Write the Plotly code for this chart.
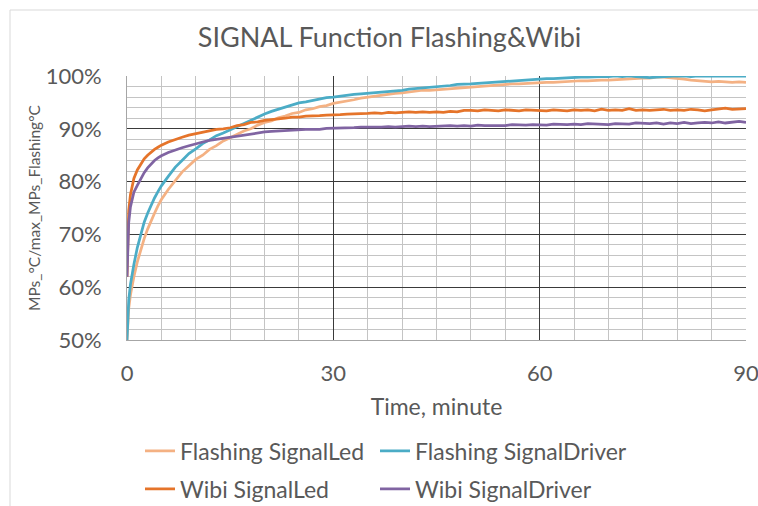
import plotly.graph_objects as go

# Sampling times (minutes)
TIME_MIN = [0, 0.1, 0.25, 0.5, 0.75, 1, 1.5, 2, 2.5, 3, 3.5, 4, 4.5,
            5, 6, 7, 8, 9, 10, 11, 12, 13, 14,
            15, 16, 17, 18, 19, 20, 21, 22, 23, 24,
            25, 26, 27, 28, 29, 30, 31, 32, 33, 34,
            35, 36, 37, 38, 39, 40, 41, 42, 43, 44,
            45, 46, 47, 48, 49, 50, 51, 52, 53, 54,
            55, 56, 57, 58, 59, 60, 61, 62, 63, 64,
            65, 66, 67, 68, 69, 70, 71, 72, 73, 74,
            75, 76, 77, 78, 79, 80, 81, 82, 83, 84,
            85, 86, 87, 88, 89, 90]

# Normalised temperature, % of max (Flashing)
FLASHING_SIGNAL_LED = [50.0, 53.0, 56.0, 58.5, 60.3, 62.0, 64.8, 67.1, 69.2, 71.0, 72.6, 74.0, 75.4,
                       76.6, 78.5, 80.2, 81.8, 83.0, 84.2, 85.0, 86.1, 86.8, 87.7,
                       88.3, 88.9, 89.6, 90.0, 90.7, 91.2, 91.5, 92.1, 92.4, 92.9,
                       93.1, 93.6, 93.8, 94.2, 94.4, 94.8, 95.0, 95.3, 95.5, 95.8,
                       96.0, 96.1, 96.4, 96.5, 96.7, 96.8, 97.0, 97.1, 97.3, 97.3,
                       97.4, 97.6, 97.6, 97.8, 97.9, 97.9, 98.1, 98.1, 98.3, 98.3,
                       98.4, 98.5, 98.5, 98.6, 98.7, 98.7, 98.8, 98.8, 98.9, 99.0,
                       99.0, 99.1, 99.1, 99.2, 99.2, 99.2, 99.3, 99.3, 99.4, 99.5,
                       99.6, 99.6, 99.8, 99.8, 99.7, 99.6, 99.4, 99.2, 99.1, 99.0,
                       98.9, 99.0, 98.9, 98.8, 98.9, 98.8]

FLASHING_SIGNAL_DRIVER = [50.0, 54.5, 57.5, 60.5, 62.6, 64.3, 67.5, 70.2, 72.3, 74.0, 75.5, 76.9, 78.1,
                          79.2, 81.0, 82.7, 84.0, 85.3, 86.2, 87.2, 87.9, 88.7, 89.2,
                          89.8, 90.4, 91.1, 91.6, 92.3, 92.8, 93.3, 93.7, 94.2, 94.5,
                          94.9, 95.1, 95.4, 95.6, 95.9, 96.0, 96.2, 96.3, 96.5, 96.6,
                          96.7, 96.9, 97.0, 97.1, 97.2, 97.3, 97.5, 97.6, 97.7, 97.9,
                          98.0, 98.1, 98.2, 98.4, 98.4, 98.5, 98.6, 98.7, 98.8, 98.9,
                          99.0, 99.1, 99.1, 99.2, 99.3, 99.4, 99.5, 99.5, 99.6, 99.6,
                          99.7, 99.8, 99.8, 99.9, 99.9, 99.9, 100.0, 99.9, 100.0, 99.9,
                          99.8, 99.7, 99.8, 99.9, 99.9, 100.0, 100.0, 99.9, 100.0, 100.0,
                          99.9, 100.0, 100.0, 99.9, 100.0, 100.0]

WIBI_SIGNAL_LED = [62.0, 70.0, 74.5, 77.5, 79.3, 80.6, 82.2, 83.4, 84.3, 85.0, 85.6, 86.1, 86.5,
                   86.9, 87.5, 88.0, 88.4, 88.8, 89.1, 89.4, 89.6, 89.9, 90.0,
                   90.2, 90.6, 90.8, 91.2, 91.3, 91.6, 91.7, 91.9, 92.0, 92.2,
                   92.2, 92.4, 92.4, 92.5, 92.6, 92.6, 92.7, 92.8, 92.8, 92.9,
                   92.9, 93.0, 92.9, 93.1, 93.0, 93.1, 93.2, 93.1, 93.2, 93.1,
                   93.2, 93.1, 93.3, 93.2, 93.5, 93.5, 93.4, 93.6, 93.5, 93.4,
                   93.6, 93.5, 93.4, 93.6, 93.5, 93.5, 93.4, 93.6, 93.5, 93.4,
                   93.6, 93.5, 93.6, 93.4, 93.7, 93.5, 93.6, 93.5, 93.8, 93.5,
                   93.6, 93.5, 93.6, 93.7, 93.5, 93.6, 93.5, 93.7, 93.6, 93.4,
                   93.6, 93.7, 93.9, 93.7, 93.8, 93.8]

WIBI_SIGNAL_DRIVER = [62.0, 68.0, 72.3, 75.2, 76.9, 78.0, 79.3, 80.6, 81.7, 82.6, 83.4, 84.0, 84.5,
                      84.9, 85.5, 86.0, 86.4, 86.8, 87.2, 87.5, 87.8, 88.0, 88.3,
                      88.5, 88.7, 88.8, 89.1, 89.2, 89.4, 89.5, 89.6, 89.6, 89.8,
                      89.8, 89.9, 89.9, 89.9, 90.1, 90.1, 90.1, 90.2, 90.2, 90.3,
                      90.3, 90.2, 90.3, 90.4, 90.3, 90.4, 90.5, 90.4, 90.5, 90.4,
                      90.5, 90.5, 90.6, 90.5, 90.6, 90.5, 90.7, 90.6, 90.6, 90.7,
                      90.6, 90.8, 90.7, 90.7, 90.8, 90.8, 90.7, 90.9, 90.8, 90.8,
                      90.9, 90.8, 91.0, 90.9, 90.9, 90.8, 91.0, 91.0, 90.9, 91.1,
                      91.0, 91.0, 91.1, 90.9, 91.1, 91.0, 91.2, 91.0, 91.1, 91.2,
                      91.1, 91.3, 91.1, 91.2, 91.4, 91.2]

X_TICKS = [0, 30, 60, 90]
Y_TICKS = [50, 60, 70, 80, 90, 100]
Y_TICK_LABELS = ["50%", "60%", "70%", "80%", "90%", "100%"]

FONT = "Lato"
TEXT = "#595959"

W, H = 758, 506
ML, MR, MT, MB = 127, 12, 76, 166
PW, PH = W - ML - MR, H - MT - MB


def px_x(px):
    return (px - ML) / PW


def px_y(py):
    return (H - MB - py) / PH


# name, values, colour, legend id, legend left / middle (px)
SERIES = [
    ("Flashing SignalLed", FLASHING_SIGNAL_LED, "#F4B183", "legend", 140, 451),
    ("Flashing SignalDriver", FLASHING_SIGNAL_DRIVER, "#4BACC6", "legend2", 375, 451),
    ("Wibi SignalLed", WIBI_SIGNAL_LED, "#E5742A", "legend3", 140, 489),
    ("Wibi SignalDriver", WIBI_SIGNAL_DRIVER, "#8064A2", "legend4", 375, 489),
]

fig = go.Figure()
legends = {}
for name, vals, color, leg, lx, ly in SERIES:
    fig.add_trace(go.Scatter(
        x=TIME_MIN, y=vals, name=name, mode="lines",
        line=dict(color=color, width=2.75),
        legend=leg,
    ))
    legends[leg] = dict(
        x=px_x(lx), y=px_y(ly), xanchor="left", yanchor="middle",
        orientation="h",
        font=dict(family=FONT, size=23, color=TEXT),
        bgcolor="rgba(0,0,0,0)", borderwidth=0, itemwidth=30,
    )

fig.update_layout(
    width=W, height=H,
    margin=dict(l=ML, r=MR, t=MT, b=MB, autoexpand=False),
    paper_bgcolor="white", plot_bgcolor="white",
    font=dict(family=FONT, color=TEXT),
    title=dict(text="SIGNAL Function Flashing&Wibi",
               x=389.5 / W, xref="container", xanchor="center",
               y=1 - 37.5 / H, yref="container", yanchor="middle",
               font=dict(family=FONT, size=27, color=TEXT)),
    showlegend=True,
    xaxis=dict(
        range=[0, 90], tickvals=X_TICKS, ticks="",
        showgrid=True, gridcolor="#3a3a3a", gridwidth=1,
        minor=dict(dtick=5, tick0=0, showgrid=True, gridcolor="#c4c4c4", gridwidth=1),
        showline=True, linecolor="#a6a6a6", linewidth=1,
        zeroline=False, ticklabelstandoff=14, ticklabeloverflow="allow",
        tickfont=dict(family=FONT, size=22, color=TEXT),
        title=dict(text="Time, minute", standoff=13,
                   font=dict(family=FONT, size=23, color=TEXT)),
    ),
    yaxis=dict(
        range=[50, 100], tickvals=Y_TICKS, ticktext=Y_TICK_LABELS, ticks="",
        showgrid=True, gridcolor="#3a3a3a", gridwidth=1,
        minor=dict(dtick=2, tick0=50, showgrid=True, gridcolor="#c4c4c4", gridwidth=1),
        showline=True, linecolor="#a6a6a6", linewidth=1,
        zeroline=False, ticklabelstandoff=20,
        tickfont=dict(family=FONT, size=22, color=TEXT),
        title=dict(text="MPs_°C/max_MPs_Flashing°C", standoff=1,
                   font=dict(family=FONT, size=15.5, color=TEXT)),
    ),
    **legends,
)

# chart-area frame, partly visible at the top-left
fig.add_shape(type="rect", xref="paper", yref="paper",
              x0=px_x(10), x1=px_x(790), y0=px_y(540), y1=px_y(10),
              line=dict(color="#d9d9d9", width=1), fillcolor="rgba(0,0,0,0)",
              layer="below")

fig.write_html("out.html")
